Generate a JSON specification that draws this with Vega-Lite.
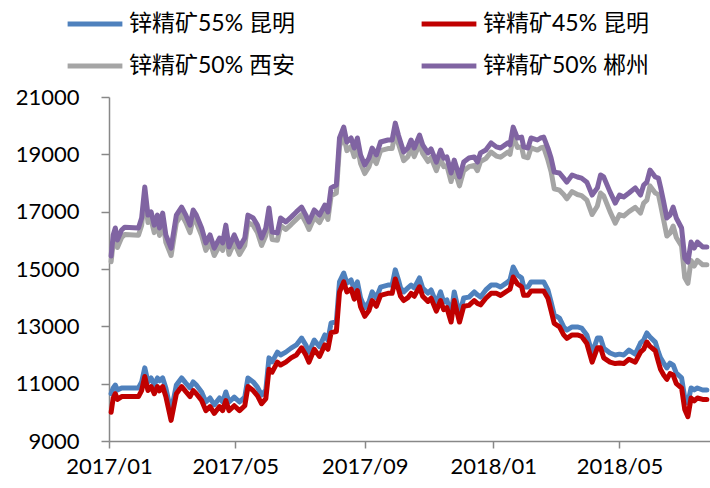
{
  "$schema": "https://vega.github.io/schema/vega-lite/v6.json",
  "width": 601,
  "height": 344,
  "autosize": {"type": "none"},
  "padding": {"left": 109, "top": 97, "right": 0, "bottom": 47},
  "background": "white",
  "config": {"view": {"stroke": null}, "font": "Lato"},
  "data": {"values": [
    {"d": "2017-01-03", "b": 10650, "r": 10000, "g": 15250, "p": 15450},
    {"d": "2017-01-05", "b": 10850, "r": 10500, "g": 15930, "p": 16190},
    {"d": "2017-01-07", "b": 10950, "r": 10650, "g": 16150, "p": 16430},
    {"d": "2017-01-09", "b": 10780, "r": 10450, "g": 15750, "p": 16010},
    {"d": "2017-01-13", "b": 10850, "r": 10550, "g": 16100, "p": 16360},
    {"d": "2017-01-16", "b": 10850, "r": 10550, "g": 16200, "p": 16460},
    {"d": "2017-01-29", "b": 10850, "r": 10550, "g": 16180, "p": 16430},
    {"d": "2017-02-01", "b": 11060, "r": 10760, "g": 16520, "p": 16780},
    {"d": "2017-02-04", "b": 11550, "r": 11250, "g": 17600, "p": 17860},
    {"d": "2017-02-07", "b": 11060, "r": 10760, "g": 16620, "p": 16880},
    {"d": "2017-02-10", "b": 11200, "r": 10900, "g": 16730, "p": 16990},
    {"d": "2017-02-13", "b": 10950, "r": 10650, "g": 16270, "p": 16530},
    {"d": "2017-02-16", "b": 11200, "r": 10900, "g": 16620, "p": 16880},
    {"d": "2017-02-18", "b": 11100, "r": 10750, "g": 16170, "p": 16430},
    {"d": "2017-02-21", "b": 11200, "r": 10900, "g": 16690, "p": 16950},
    {"d": "2017-02-24", "b": 10850, "r": 10550, "g": 15930, "p": 16190},
    {"d": "2017-03-01", "b": 10010, "r": 9720, "g": 15470, "p": 15730},
    {"d": "2017-03-06", "b": 10950, "r": 10650, "g": 16620, "p": 16880},
    {"d": "2017-03-11", "b": 11200, "r": 10900, "g": 16900, "p": 17160},
    {"d": "2017-03-15", "b": 11020, "r": 10720, "g": 16620, "p": 16880},
    {"d": "2017-03-19", "b": 10850, "r": 10550, "g": 16270, "p": 16530},
    {"d": "2017-03-22", "b": 11060, "r": 10760, "g": 16800, "p": 17060},
    {"d": "2017-03-25", "b": 10950, "r": 10650, "g": 16620, "p": 16880},
    {"d": "2017-03-30", "b": 10710, "r": 10410, "g": 16170, "p": 16430},
    {"d": "2017-04-03", "b": 10360, "r": 10060, "g": 15650, "p": 15910},
    {"d": "2017-04-07", "b": 10500, "r": 10200, "g": 15930, "p": 16190},
    {"d": "2017-04-11", "b": 10260, "r": 9960, "g": 15470, "p": 15730},
    {"d": "2017-04-16", "b": 10500, "r": 10200, "g": 15820, "p": 16080},
    {"d": "2017-04-19", "b": 10360, "r": 10060, "g": 15650, "p": 15910},
    {"d": "2017-04-22", "b": 10710, "r": 10410, "g": 16270, "p": 16530},
    {"d": "2017-04-25", "b": 10360, "r": 10060, "g": 15510, "p": 15770},
    {"d": "2017-04-30", "b": 10530, "r": 10230, "g": 15930, "p": 16190},
    {"d": "2017-05-05", "b": 10360, "r": 10060, "g": 15510, "p": 15770},
    {"d": "2017-05-10", "b": 10530, "r": 10230, "g": 15820, "p": 16080},
    {"d": "2017-05-13", "b": 11200, "r": 10900, "g": 16620, "p": 16880},
    {"d": "2017-05-18", "b": 11060, "r": 10760, "g": 16520, "p": 16780},
    {"d": "2017-05-22", "b": 10880, "r": 10580, "g": 16270, "p": 16530},
    {"d": "2017-05-26", "b": 10600, "r": 10300, "g": 15820, "p": 16080},
    {"d": "2017-05-30", "b": 10780, "r": 10480, "g": 16170, "p": 16430},
    {"d": "2017-06-02", "b": 11900, "r": 11500, "g": 16870, "p": 17130},
    {"d": "2017-06-05", "b": 11760, "r": 11400, "g": 16030, "p": 16290},
    {"d": "2017-06-10", "b": 12100, "r": 11750, "g": 16000, "p": 16260},
    {"d": "2017-06-13", "b": 12000, "r": 11650, "g": 16520, "p": 16780},
    {"d": "2017-06-18", "b": 12100, "r": 11750, "g": 16380, "p": 16640},
    {"d": "2017-06-23", "b": 12240, "r": 11900, "g": 16550, "p": 16810},
    {"d": "2017-06-28", "b": 12350, "r": 12000, "g": 16730, "p": 16990},
    {"d": "2017-07-03", "b": 12590, "r": 12250, "g": 16900, "p": 17160},
    {"d": "2017-07-07", "b": 12350, "r": 12000, "g": 16620, "p": 16880},
    {"d": "2017-07-10", "b": 12100, "r": 11750, "g": 16380, "p": 16640},
    {"d": "2017-07-15", "b": 12520, "r": 12200, "g": 16800, "p": 17060},
    {"d": "2017-07-20", "b": 12290, "r": 11950, "g": 16620, "p": 16880},
    {"d": "2017-07-25", "b": 12700, "r": 12350, "g": 16970, "p": 17230},
    {"d": "2017-07-28", "b": 12520, "r": 12200, "g": 16730, "p": 16990},
    {"d": "2017-07-31", "b": 13120, "r": 12780, "g": 17550, "p": 17830},
    {"d": "2017-08-05", "b": 13150, "r": 12820, "g": 17650, "p": 17930},
    {"d": "2017-08-08", "b": 14550, "r": 14200, "g": 19280, "p": 19570},
    {"d": "2017-08-12", "b": 14860, "r": 14550, "g": 19650, "p": 19950},
    {"d": "2017-08-15", "b": 14510, "r": 14200, "g": 19130, "p": 19430},
    {"d": "2017-08-19", "b": 14620, "r": 14300, "g": 19270, "p": 19570},
    {"d": "2017-08-22", "b": 14270, "r": 13950, "g": 18920, "p": 19220},
    {"d": "2017-08-25", "b": 14550, "r": 14250, "g": 19270, "p": 19570},
    {"d": "2017-08-28", "b": 13990, "r": 13680, "g": 18680, "p": 18980},
    {"d": "2017-09-01", "b": 13640, "r": 13350, "g": 18330, "p": 18630},
    {"d": "2017-09-05", "b": 13850, "r": 13550, "g": 18570, "p": 18870},
    {"d": "2017-09-08", "b": 14200, "r": 13900, "g": 18920, "p": 19220},
    {"d": "2017-09-12", "b": 13990, "r": 13700, "g": 18680, "p": 18980},
    {"d": "2017-09-16", "b": 14370, "r": 14080, "g": 19130, "p": 19430},
    {"d": "2017-09-23", "b": 14440, "r": 14150, "g": 19200, "p": 19500},
    {"d": "2017-09-27", "b": 14440, "r": 14150, "g": 19200, "p": 19500},
    {"d": "2017-09-30", "b": 14970, "r": 14650, "g": 19780, "p": 20090},
    {"d": "2017-10-03", "b": 14620, "r": 14300, "g": 19370, "p": 19670},
    {"d": "2017-10-05", "b": 14340, "r": 14050, "g": 19130, "p": 19430},
    {"d": "2017-10-08", "b": 14200, "r": 13900, "g": 18780, "p": 19080},
    {"d": "2017-10-12", "b": 14340, "r": 14000, "g": 18920, "p": 19220},
    {"d": "2017-10-15", "b": 14440, "r": 14150, "g": 19200, "p": 19500},
    {"d": "2017-10-18", "b": 14340, "r": 14050, "g": 18920, "p": 19220},
    {"d": "2017-10-23", "b": 14690, "r": 14380, "g": 19370, "p": 19670},
    {"d": "2017-10-26", "b": 14340, "r": 14050, "g": 19030, "p": 19330},
    {"d": "2017-10-31", "b": 14160, "r": 13870, "g": 18750, "p": 19050},
    {"d": "2017-11-03", "b": 14270, "r": 13980, "g": 18890, "p": 19190},
    {"d": "2017-11-08", "b": 13810, "r": 13530, "g": 18430, "p": 18730},
    {"d": "2017-11-12", "b": 14200, "r": 13900, "g": 18850, "p": 19150},
    {"d": "2017-11-15", "b": 13850, "r": 13580, "g": 18570, "p": 18870},
    {"d": "2017-11-18", "b": 13920, "r": 13650, "g": 18610, "p": 18910},
    {"d": "2017-11-22", "b": 13400, "r": 13150, "g": 18050, "p": 18350},
    {"d": "2017-11-25", "b": 14200, "r": 13900, "g": 18500, "p": 18800},
    {"d": "2017-11-30", "b": 13400, "r": 13150, "g": 17900, "p": 18210},
    {"d": "2017-12-04", "b": 13990, "r": 13700, "g": 18430, "p": 18730},
    {"d": "2017-12-09", "b": 14020, "r": 13730, "g": 18570, "p": 18870},
    {"d": "2017-12-14", "b": 14200, "r": 13900, "g": 18610, "p": 18910},
    {"d": "2017-12-17", "b": 14100, "r": 13800, "g": 18430, "p": 18730},
    {"d": "2017-12-20", "b": 14020, "r": 13750, "g": 18750, "p": 19050},
    {"d": "2017-12-25", "b": 14270, "r": 13980, "g": 18850, "p": 19150},
    {"d": "2017-12-30", "b": 14440, "r": 14150, "g": 19080, "p": 19400},
    {"d": "2018-01-04", "b": 14440, "r": 14150, "g": 18940, "p": 19260},
    {"d": "2018-01-08", "b": 14370, "r": 14080, "g": 18900, "p": 19220},
    {"d": "2018-01-15", "b": 14550, "r": 14250, "g": 19080, "p": 19400},
    {"d": "2018-01-17", "b": 14620, "r": 14300, "g": 19000, "p": 19330},
    {"d": "2018-01-20", "b": 15070, "r": 14720, "g": 19620, "p": 19950},
    {"d": "2018-01-24", "b": 14790, "r": 14480, "g": 19240, "p": 19570},
    {"d": "2018-01-28", "b": 14690, "r": 14380, "g": 19260, "p": 19600},
    {"d": "2018-01-30", "b": 14370, "r": 14080, "g": 18920, "p": 19260},
    {"d": "2018-02-03", "b": 14370, "r": 14080, "g": 18880, "p": 19220},
    {"d": "2018-02-06", "b": 14550, "r": 14230, "g": 19230, "p": 19570},
    {"d": "2018-02-08", "b": 14550, "r": 14230, "g": 19200, "p": 19550},
    {"d": "2018-02-12", "b": 14550, "r": 14230, "g": 19150, "p": 19500},
    {"d": "2018-02-15", "b": 14550, "r": 14230, "g": 19220, "p": 19570},
    {"d": "2018-02-18", "b": 14550, "r": 14230, "g": 19250, "p": 19600},
    {"d": "2018-02-22", "b": 14270, "r": 13980, "g": 18800, "p": 19220},
    {"d": "2018-02-25", "b": 13850, "r": 13550, "g": 18400, "p": 18870},
    {"d": "2018-02-28", "b": 13400, "r": 13100, "g": 17800, "p": 18380},
    {"d": "2018-03-05", "b": 13290, "r": 12980, "g": 17750, "p": 18350},
    {"d": "2018-03-09", "b": 12980, "r": 12700, "g": 17600, "p": 18170},
    {"d": "2018-03-12", "b": 12870, "r": 12580, "g": 17450, "p": 18030},
    {"d": "2018-03-17", "b": 12980, "r": 12700, "g": 17700, "p": 18280},
    {"d": "2018-03-22", "b": 12980, "r": 12700, "g": 17600, "p": 18210},
    {"d": "2018-03-26", "b": 12940, "r": 12650, "g": 17560, "p": 18170},
    {"d": "2018-03-31", "b": 12700, "r": 12400, "g": 17400, "p": 18030},
    {"d": "2018-04-05", "b": 12070, "r": 11750, "g": 16900, "p": 17580},
    {"d": "2018-04-10", "b": 12590, "r": 12250, "g": 17200, "p": 17830},
    {"d": "2018-04-13", "b": 12590, "r": 12250, "g": 17650, "p": 18280},
    {"d": "2018-04-16", "b": 12240, "r": 11900, "g": 17550, "p": 18210},
    {"d": "2018-04-22", "b": 12070, "r": 11750, "g": 17000, "p": 17690},
    {"d": "2018-04-27", "b": 12000, "r": 11700, "g": 16600, "p": 17300},
    {"d": "2018-05-01", "b": 12030, "r": 11720, "g": 16900, "p": 17580},
    {"d": "2018-05-05", "b": 12000, "r": 11700, "g": 16850, "p": 17510},
    {"d": "2018-05-10", "b": 12170, "r": 11850, "g": 17000, "p": 17650},
    {"d": "2018-05-16", "b": 12030, "r": 11750, "g": 17150, "p": 17830},
    {"d": "2018-05-21", "b": 12420, "r": 12100, "g": 16950, "p": 17580},
    {"d": "2018-05-24", "b": 12520, "r": 12200, "g": 17300, "p": 17930},
    {"d": "2018-05-27", "b": 12770, "r": 12450, "g": 17400, "p": 18030},
    {"d": "2018-05-30", "b": 12630, "r": 12300, "g": 17900, "p": 18450},
    {"d": "2018-06-04", "b": 12450, "r": 12150, "g": 17650, "p": 18210},
    {"d": "2018-06-07", "b": 12100, "r": 11750, "g": 17600, "p": 18170},
    {"d": "2018-06-09", "b": 11900, "r": 11500, "g": 17250, "p": 17860},
    {"d": "2018-06-12", "b": 11720, "r": 11300, "g": 16700, "p": 17340},
    {"d": "2018-06-15", "b": 11550, "r": 11150, "g": 16150, "p": 16780},
    {"d": "2018-06-18", "b": 11720, "r": 11350, "g": 16250, "p": 16880},
    {"d": "2018-06-21", "b": 11650, "r": 11300, "g": 16500, "p": 17160},
    {"d": "2018-06-24", "b": 11370, "r": 11000, "g": 16100, "p": 16780},
    {"d": "2018-06-29", "b": 11200, "r": 10850, "g": 15800, "p": 16430},
    {"d": "2018-07-02", "b": 10500, "r": 10100, "g": 14700, "p": 15380},
    {"d": "2018-07-05", "b": 10330, "r": 9850, "g": 14500, "p": 15240},
    {"d": "2018-07-08", "b": 10850, "r": 10500, "g": 15300, "p": 15940},
    {"d": "2018-07-11", "b": 10780, "r": 10400, "g": 15100, "p": 15730},
    {"d": "2018-07-14", "b": 10850, "r": 10500, "g": 15300, "p": 15940},
    {"d": "2018-07-19", "b": 10780, "r": 10450, "g": 15150, "p": 15770},
    {"d": "2018-07-23", "b": 10780, "r": 10450, "g": 15150, "p": 15770}
  ]},
  "encoding": {
    "x": {
      "field": "d", "type": "temporal",
      "scale": {"type": "utc", "nice": false, "domain": [{"year": 2017, "month": 1, "date": 1, "utc": true}, {"year": 2018, "month": 7, "date": 26, "utc": true}]},
      "axis": {
        "title": null, "grid": false, "format": "%Y/%m",
        "values": [{"year": 2017, "month": 1, "date": 1, "utc": true}, {"year": 2017, "month": 5, "date": 1, "utc": true}, {"year": 2017, "month": 9, "date": 1, "utc": true}, {"year": 2018, "month": 1, "date": 1, "utc": true}, {"year": 2018, "month": 5, "date": 1, "utc": true}],
        "domainColor": "#888888", "domainWidth": 1.5, "tickColor": "#888888", "tickWidth": 1.5, "tickSize": 7,
        "labelFont": "Lato", "labelFontSize": 22, "labelColor": "#000000", "labelPadding": 8, "labelFlush": false, "labelOverlap": false
      }
    }
  },
  "layer": [
    {
      "mark": {"type": "line", "strokeWidth": 5, "strokeJoin": "round", "strokeCap": "round"},
      "encoding": {
        "y": {"field": "b", "type": "quantitative", "scale": {"domain": [9000, 21000], "nice": false, "zero": false},
          "axis": {"title": null, "grid": false, "format": "d", "values": [9000, 11000, 13000, 15000, 17000, 19000, 21000],
            "domainColor": "#888888", "domainWidth": 1.5, "tickColor": "#888888", "tickWidth": 1.5, "tickSize": 8,
            "labelFont": "Lato", "labelFontSize": 22, "labelColor": "#000000", "labelPadding": 22, "labelOverlap": false}},
        "color": {"datum": "锌精矿55% 昆明", "type": "nominal",
          "scale": {"domain": ["锌精矿55% 昆明", "锌精矿45% 昆明", "锌精矿50% 西安", "锌精矿50% 郴州"], "range": ["#4F81BD", "#C00000", "#A5A5A5", "#8064A2"]},
          "legend": {"title": null, "orient": "none", "legendX": -44, "legendY": -103, "direction": "horizontal", "columns": 2, "columnPadding": 115, "rowPadding": -19,
            "symbolType": "stroke", "symbolSize": 3000, "symbolStrokeWidth": 5, "labelFont": "Lato, Noto Sans CJK SC", "labelFontSize": 23, "labelColor": "#000000", "labelLimit": 400, "labelOffset": 4}}
      }
    },
    {
      "mark": {"type": "line", "strokeWidth": 5, "strokeJoin": "round", "strokeCap": "round"},
      "encoding": {"y": {"field": "r", "type": "quantitative"}, "color": {"datum": "锌精矿45% 昆明", "type": "nominal"}}
    },
    {
      "mark": {"type": "line", "strokeWidth": 5, "strokeJoin": "round", "strokeCap": "round"},
      "encoding": {"y": {"field": "g", "type": "quantitative"}, "color": {"datum": "锌精矿50% 西安", "type": "nominal"}}
    },
    {
      "mark": {"type": "line", "strokeWidth": 5, "strokeJoin": "round", "strokeCap": "round"},
      "encoding": {"y": {"field": "p", "type": "quantitative"}, "color": {"datum": "锌精矿50% 郴州", "type": "nominal"}}
    }
  ]
}
